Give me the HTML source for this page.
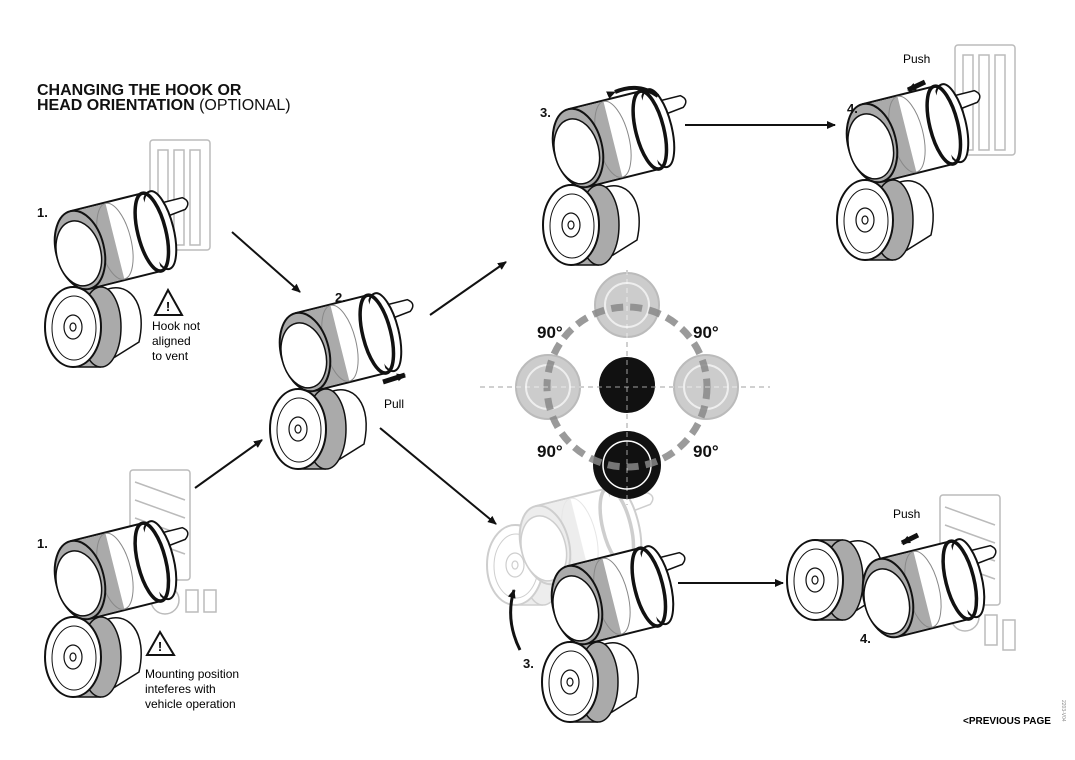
<!DOCTYPE html>
<html><head><meta charset="utf-8"><style>
body{margin:0;background:#fff;width:1075px;height:760px;overflow:hidden;font-family:"Liberation Sans",sans-serif}
svg{position:absolute;left:0;top:0}
</style></head><body>
<svg width="1075" height="760" viewBox="0 0 1075 760">
<defs>
<marker id="ah" markerWidth="10" markerHeight="10" refX="8" refY="5" orient="auto" markerUnits="userSpaceOnUse"><path d="M0,1 L9,5 L0,9 Z" fill="#111"/></marker>
<g id="knob">
  <path d="M30,-36 C55,-48 75,-25 66,15 L42,30 Z" fill="#fff" stroke="#111" stroke-width="1.5"/>
  <rect x="0" y="-40" width="28" height="80" fill="#aaa"/>
  <line x1="0" y1="-40" x2="28" y2="-40" stroke="#111" stroke-width="1.5"/>
  <line x1="0" y1="40" x2="28" y2="40" stroke="#111" stroke-width="1.5"/>
  <ellipse cx="28" cy="0" rx="20" ry="40" fill="#aaa" stroke="#111" stroke-width="1.5"/>
  <ellipse cx="0" cy="0" rx="28" ry="40" fill="#fff" stroke="#111" stroke-width="2"/>
  <ellipse cx="1" cy="1" rx="22" ry="32" fill="none" stroke="#111" stroke-width="1"/>
  <ellipse cx="0" cy="0" rx="9" ry="12" fill="none" stroke="#111" stroke-width="1.2"/>
  <ellipse cx="0" cy="0" rx="3" ry="4" fill="none" stroke="#111" stroke-width="1.2"/>
</g>
<g id="cyl">
 <g transform="rotate(-14)">
  <path d="M88,-26 L112,-26 Q120,-20 112,-14 L96,-12" fill="#fff" stroke="#111" stroke-width="1.5"/>
  <ellipse cx="82" cy="0" rx="14" ry="40" fill="#fff" stroke="#111" stroke-width="2"/>
  <rect x="0" y="-40" width="74" height="80" fill="#fff"/>
  <line x1="0" y1="-40" x2="74" y2="-40" stroke="#111" stroke-width="2"/>
  <line x1="0" y1="40" x2="74" y2="40" stroke="#111" stroke-width="2"/>
  <rect x="0" y="-39" width="36" height="78" fill="#aaa"/>
  <ellipse cx="36" cy="0" rx="16" ry="39" fill="none" stroke="#888" stroke-width="1"/>
  <ellipse cx="74" cy="0" rx="14" ry="40" fill="none" stroke="#111" stroke-width="3.5"/>
  <ellipse cx="0" cy="0" rx="24" ry="40" fill="#aaa" stroke="#111" stroke-width="2"/>
  <ellipse cx="-2" cy="3" rx="22" ry="33" fill="#fff" stroke="#111" stroke-width="1.5"/>
 </g>
</g>
<g id="dev"><use href="#knob" x="-7" y="77"/><use href="#cyl"/></g>
<g id="vent" fill="none" stroke="#bbb" stroke-width="1.5">
  <rect x="0" y="0" width="60" height="110" rx="3"/>
  <rect x="8" y="10" width="10" height="95"/><rect x="24" y="10" width="10" height="95"/><rect x="40" y="10" width="10" height="95"/>
</g>
<g id="hvent" fill="none" stroke="#bbb" stroke-width="1.5">
  <rect x="0" y="0" width="60" height="110" rx="3"/>
  <path d="M5,12 L55,30 M5,30 L55,48 M5,48 L55,66 M5,66 L55,84"/>
</g>
</defs>

<text x="37" y="95" font-size="16" font-weight="bold" fill="#111">CHANGING THE HOOK OR</text>
<text x="37" y="110" font-size="16" fill="#111"><tspan font-weight="bold">HEAD ORIENTATION</tspan> (OPTIONAL)</text>

<use href="#vent" x="150" y="140"/>
<use href="#dev" x="80" y="250"/>
<path d="M168,290 L155,315 L182,315 Z" fill="none" stroke="#111" stroke-width="2"/><text x="168" y="311" font-size="13" font-weight="bold" text-anchor="middle">!</text>
<text x="152" y="330" font-size="12">Hook not</text><text x="152" y="345" font-size="12">aligned</text><text x="152" y="360" font-size="12">to vent</text>

<use href="#hvent" x="130" y="470"/>
<circle cx="165" cy="600" r="14" fill="none" stroke="#bbb" stroke-width="1.5"/>
<rect x="186" y="590" width="12" height="22" fill="none" stroke="#bbb" stroke-width="1.5"/><rect x="204" y="590" width="12" height="22" fill="none" stroke="#bbb" stroke-width="1.5"/>
<use href="#dev" x="80" y="580"/>
<path d="M160,632 L147,655 L174,655 Z" fill="none" stroke="#111" stroke-width="2"/><text x="160" y="651" font-size="13" font-weight="bold" text-anchor="middle">!</text>
<text x="145" y="678" font-size="12">Mounting position</text><text x="145" y="693" font-size="12">inteferes with</text><text x="145" y="708" font-size="12">vehicle operation</text>

<use href="#dev" x="305" y="352"/>
<path d="M383,382 L405,375" stroke="#111" stroke-width="5" marker-end="url(#ah)"/>
<text x="384" y="408" font-size="12">Pull</text>

<use href="#dev" x="578" y="148"/>
<path d="M615,92 Q638,82 658,96" fill="none" stroke="#111" stroke-width="4" marker-start="url(#ah)"/>

<use href="#vent" x="955" y="45"/>
<use href="#dev" x="872" y="143"/>
<text x="903" y="63" font-size="12">Push</text>
<path d="M925,82 L908,90" stroke="#111" stroke-width="5" marker-end="url(#ah)"/>

<g opacity="0.2"><use href="#knob" x="515" y="565"/><use href="#cyl" x="545" y="545"/></g>
<use href="#dev" x="577" y="605"/>
<path d="M520,650 Q505,620 514,590" fill="none" stroke="#111" stroke-width="3" marker-end="url(#ah)"/>

<use href="#hvent" x="940" y="495"/>
<circle cx="965" cy="617" r="14" fill="none" stroke="#bbb" stroke-width="1.5"/>
<rect x="985" y="615" width="12" height="30" fill="none" stroke="#bbb" stroke-width="1.5"/><rect x="1003" y="620" width="12" height="30" fill="none" stroke="#bbb" stroke-width="1.5"/>
<use href="#knob" x="815" y="580"/>
<use href="#cyl" x="888" y="598"/>
<text x="893" y="518" font-size="12">Push</text>
<path d="M918,535 L902,543" stroke="#111" stroke-width="5" marker-end="url(#ah)"/>

<g stroke="#111" stroke-width="2" marker-end="url(#ah)">
<line x1="232" y1="232" x2="300" y2="292"/>
<line x1="195" y1="488" x2="262" y2="440"/>
<line x1="430" y1="315" x2="506" y2="262"/>
<line x1="380" y1="428" x2="496" y2="524"/>
<line x1="685" y1="125" x2="835" y2="125"/>
<line x1="678" y1="583" x2="783" y2="583"/>
</g>

<g>
<line x1="627" y1="270" x2="627" y2="505" stroke="#111" stroke-width="1" stroke-dasharray="5,4"/>
<line x1="480" y1="387" x2="770" y2="387" stroke="#111" stroke-width="1" stroke-dasharray="5,4"/>
<circle cx="627" cy="305" r="32" fill="#ccc" stroke="#bbb" stroke-width="2"/><circle cx="627" cy="305" r="22" fill="none" stroke="#eee" stroke-width="2"/>
<circle cx="548" cy="387" r="32" fill="#ccc" stroke="#bbb" stroke-width="2"/><circle cx="548" cy="387" r="22" fill="none" stroke="#eee" stroke-width="2"/>
<circle cx="706" cy="387" r="32" fill="#ccc" stroke="#bbb" stroke-width="2"/><circle cx="706" cy="387" r="22" fill="none" stroke="#eee" stroke-width="2"/>
<circle cx="627" cy="385" r="28" fill="#111"/>
<circle cx="627" cy="465" r="34" fill="#111"/><circle cx="627" cy="465" r="24" fill="none" stroke="#fff" stroke-width="1.5"/>
<circle cx="627" cy="387" r="80" fill="none" stroke="#888" stroke-width="7" stroke-dasharray="12,7" opacity="0.85"/>
<line x1="627" y1="270" x2="627" y2="505" stroke="#fff" stroke-width="1" stroke-dasharray="5,4" opacity="0.6"/>
<line x1="480" y1="387" x2="770" y2="387" stroke="#fff" stroke-width="1" stroke-dasharray="5,4" opacity="0.6"/>
</g>
<g font-size="17" font-weight="bold" fill="#111">
<text x="537" y="338">90°</text><text x="693" y="338">90°</text>
<text x="537" y="457">90°</text><text x="693" y="457">90°</text>
</g>

<g font-size="13" font-weight="bold" fill="#111">
<text x="37" y="217">1.</text>
<text x="37" y="548">1.</text>
<text x="335" y="302">2.</text>
<text x="540" y="117">3.</text>
<text x="847" y="113">4.</text>
<text x="523" y="668">3.</text>
<text x="860" y="643">4.</text>
</g>

<text x="963" y="724" font-size="10" font-weight="bold">&lt;PREVIOUS PAGE</text>
<text x="1062" y="700" font-size="5" fill="#888" transform="rotate(90 1062 700)">2203-V04</text>
</svg>
</body></html>
